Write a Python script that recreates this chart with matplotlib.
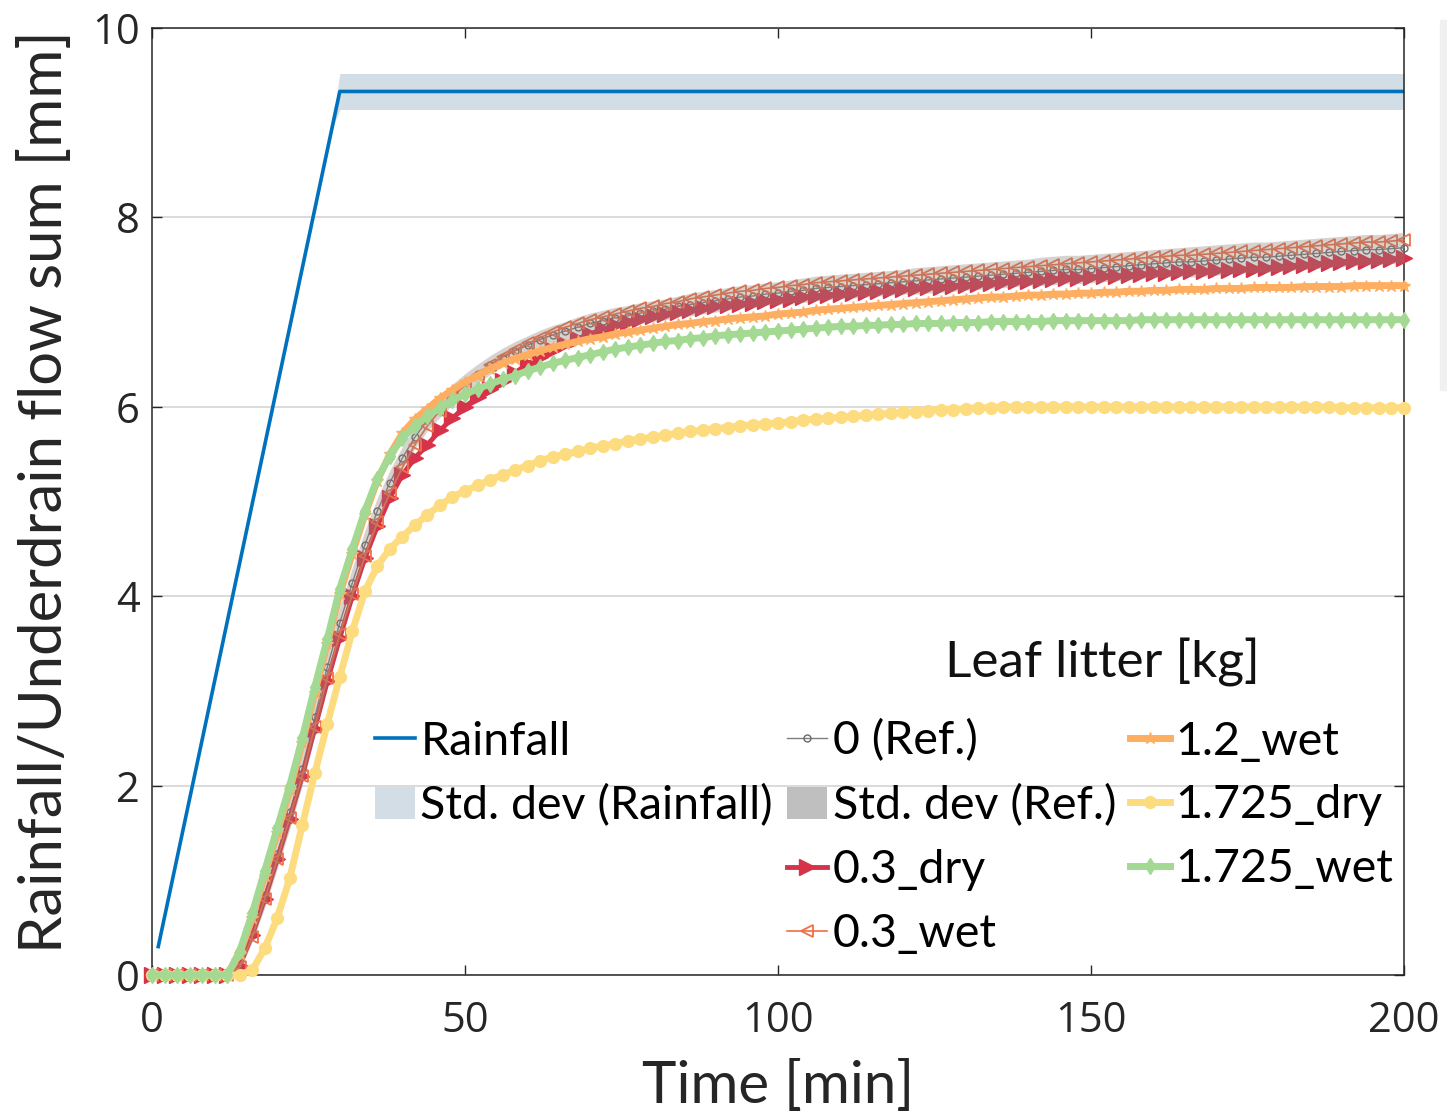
import numpy as np
import matplotlib
matplotlib.use("Agg")
import matplotlib.pyplot as plt
from matplotlib.lines import Line2D
from matplotlib.patches import Patch, Rectangle

plt.rcParams['font.family'] = ['Lato', 'DejaVu Sans']

# time axis, one value every 2 min
time = np.arange(0, 201, 2)

# rainfall (cumulative) and its std dev
rain_t = [1, 29, 30, 200]
rain = [0.30, 9.02, 9.33, 9.33]
rain_sd = [0.02, 0.05, 0.19, 0.19]

# underdrain flow sums [mm]
ref = [0, 0, 0, 0, 0, 0, 0, 0.10, 0.45, 0.85,
       1.28, 1.72, 2.18, 2.72, 3.25, 3.72, 4.14, 4.54, 4.90, 5.20,
       5.46, 5.68, 5.86, 6.00, 6.13, 6.25, 6.35, 6.44, 6.52, 6.59,
       6.65, 6.71, 6.76, 6.80, 6.84, 6.88, 6.91, 6.94, 6.96, 6.99,
       7.01, 7.03, 7.06, 7.08, 7.10, 7.12, 7.14, 7.16, 7.17, 7.19,
       7.20, 7.22, 7.23, 7.25, 7.26, 7.27, 7.28, 7.29, 7.30, 7.31,
       7.32, 7.33, 7.34, 7.35, 7.36, 7.37, 7.38, 7.39, 7.40, 7.41,
       7.42, 7.43, 7.44, 7.45, 7.45, 7.46, 7.47, 7.48, 7.49, 7.50,
       7.51, 7.52, 7.53, 7.53, 7.54, 7.55, 7.56, 7.57, 7.58, 7.58,
       7.59, 7.60, 7.61, 7.62, 7.63, 7.64, 7.65, 7.66, 7.66, 7.67,
       7.68]

ref_sd = [0, 0, 0, 0, 0, 0, 0, 0.05, 0.10, 0.14,
          0.16, 0.18, 0.18, 0.18, 0.18, 0.17, 0.16, 0.15, 0.14, 0.13,
          0.12, 0.12, 0.11, 0.11, 0.11, 0.10, 0.10, 0.10, 0.10, 0.10,
          0.10, 0.10, 0.10, 0.10, 0.11, 0.11, 0.11, 0.11, 0.11, 0.11,
          0.11, 0.11, 0.11, 0.12, 0.12, 0.12, 0.12, 0.12, 0.12, 0.12,
          0.12, 0.12, 0.13, 0.13, 0.13, 0.13, 0.13, 0.13, 0.13, 0.13,
          0.13, 0.14, 0.14, 0.14, 0.14, 0.14, 0.14, 0.14, 0.14, 0.14,
          0.14, 0.15, 0.15, 0.15, 0.15, 0.15, 0.15, 0.15, 0.15, 0.15,
          0.15, 0.15, 0.15, 0.16, 0.16, 0.16, 0.16, 0.16, 0.16, 0.16,
          0.16, 0.16, 0.16, 0.16, 0.16, 0.16, 0.16, 0.16, 0.16, 0.16,
          0.16]

dry_03 = [0, 0, 0, 0, 0, 0, 0, 0.10, 0.42, 0.80,
          1.22, 1.65, 2.10, 2.60, 3.10, 3.56, 4.00, 4.40, 4.74, 5.04,
          5.28, 5.46, 5.60, 5.75, 5.88, 6.00, 6.10, 6.19, 6.27, 6.36,
          6.45, 6.53, 6.60, 6.66, 6.72, 6.77, 6.82, 6.86, 6.90, 6.93,
          6.96, 6.98, 7.00, 7.02, 7.04, 7.06, 7.07, 7.09, 7.10, 7.12,
          7.13, 7.14, 7.16, 7.17, 7.18, 7.19, 7.20, 7.21, 7.22, 7.23,
          7.24, 7.25, 7.26, 7.27, 7.28, 7.29, 7.30, 7.31, 7.32, 7.33,
          7.33, 7.34, 7.35, 7.36, 7.36, 7.37, 7.38, 7.38, 7.39, 7.40,
          7.41, 7.41, 7.42, 7.43, 7.43, 7.44, 7.44, 7.45, 7.46, 7.47,
          7.48, 7.49, 7.50, 7.51, 7.52, 7.53, 7.54, 7.54, 7.55, 7.56,
          7.57]

wet_03 = [0, 0, 0, 0, 0, 0, 0, 0.08, 0.40, 0.80,
          1.22, 1.66, 2.10, 2.62, 3.14, 3.60, 4.02, 4.42, 4.78, 5.09,
          5.36, 5.60, 5.80, 5.96, 6.10, 6.23, 6.34, 6.44, 6.53, 6.60,
          6.67, 6.73, 6.79, 6.84, 6.88, 6.92, 6.95, 6.98, 7.01, 7.04,
          7.06, 7.09, 7.11, 7.14, 7.16, 7.18, 7.20, 7.22, 7.23, 7.25,
          7.26, 7.28, 7.29, 7.31, 7.32, 7.33, 7.34, 7.35, 7.36, 7.37,
          7.38, 7.39, 7.40, 7.41, 7.42, 7.43, 7.44, 7.45, 7.46, 7.47,
          7.48, 7.49, 7.50, 7.51, 7.52, 7.53, 7.54, 7.55, 7.56, 7.57,
          7.58, 7.59, 7.60, 7.60, 7.61, 7.62, 7.63, 7.64, 7.65, 7.66,
          7.67, 7.68, 7.69, 7.70, 7.71, 7.72, 7.73, 7.74, 7.74, 7.75,
          7.76]

wet_12 = [0, 0, 0, 0, 0, 0, 0, 0.22, 0.60, 1.05,
          1.50, 1.95, 2.45, 2.98, 3.50, 4.02, 4.45, 4.86, 5.22, 5.50,
          5.72, 5.87, 5.98, 6.09, 6.18, 6.26, 6.33, 6.40, 6.46, 6.51,
          6.55, 6.59, 6.63, 6.66, 6.69, 6.72, 6.74, 6.77, 6.79, 6.81,
          6.83, 6.85, 6.87, 6.88, 6.90, 6.91, 6.93, 6.94, 6.95, 6.96,
          6.98, 6.99, 7.00, 7.02, 7.03, 7.04, 7.05, 7.06, 7.07, 7.08,
          7.09, 7.10, 7.11, 7.12, 7.13, 7.14, 7.15, 7.16, 7.16, 7.17,
          7.18, 7.18, 7.19, 7.19, 7.20, 7.20, 7.21, 7.21, 7.22, 7.22,
          7.23, 7.23, 7.24, 7.24, 7.24, 7.25, 7.25, 7.25, 7.26, 7.26,
          7.26, 7.26, 7.27, 7.27, 7.27, 7.27, 7.28, 7.28, 7.28, 7.28,
          7.28]

dry_1725 = [0, 0, 0, 0, 0, 0, 0, 0, 0.05, 0.28,
            0.60, 1.02, 1.58, 2.13, 2.65, 3.15, 3.63, 4.05, 4.32, 4.50,
            4.63, 4.75, 4.86, 4.96, 5.05, 5.11, 5.17, 5.23, 5.28, 5.33,
            5.38, 5.43, 5.47, 5.50, 5.53, 5.56, 5.59, 5.61, 5.64, 5.66,
            5.68, 5.70, 5.72, 5.74, 5.75, 5.77, 5.78, 5.80, 5.81, 5.82,
            5.83, 5.84, 5.86, 5.87, 5.88, 5.89, 5.90, 5.91, 5.92, 5.93,
            5.94, 5.95, 5.96, 5.97, 5.97, 5.98, 5.99, 5.99, 6.00, 6.00,
            6.00, 6.00, 6.00, 6.00, 6.00, 6.00, 6.00, 6.00, 6.00, 6.00,
            6.00, 6.00, 6.00, 6.00, 6.00, 6.00, 6.00, 6.00, 6.00, 6.00,
            6.00, 6.00, 6.00, 6.00, 6.00, 5.99, 5.99, 5.99, 5.99, 5.99,
            5.99]

wet_1725 = [0, 0, 0, 0, 0, 0, 0, 0.25, 0.65, 1.10,
            1.55, 2.00, 2.50, 3.04, 3.55, 4.08, 4.50, 4.90, 5.24, 5.48,
            5.67, 5.80, 5.90, 5.99, 6.07, 6.13, 6.19, 6.24, 6.29, 6.33,
            6.38, 6.42, 6.46, 6.49, 6.52, 6.55, 6.58, 6.61, 6.63, 6.65,
            6.67, 6.69, 6.70, 6.72, 6.73, 6.75, 6.76, 6.77, 6.78, 6.79,
            6.80, 6.81, 6.82, 6.83, 6.84, 6.85, 6.85, 6.86, 6.86, 6.87,
            6.87, 6.88, 6.88, 6.88, 6.89, 6.89, 6.89, 6.90, 6.90, 6.90,
            6.90, 6.90, 6.91, 6.91, 6.91, 6.91, 6.91, 6.91, 6.91, 6.92,
            6.92, 6.92, 6.92, 6.92, 6.92, 6.92, 6.92, 6.92, 6.92, 6.92,
            6.92, 6.92, 6.92, 6.92, 6.92, 6.92, 6.92, 6.92, 6.92, 6.92,
            6.92]

x_ticks = [0, 50, 100, 150, 200]
y_ticks = [0, 2, 4, 6, 8, 10]

fig = plt.figure(figsize=(14.47, 11.16), dpi=100)
ax = fig.add_axes([0.10504, 0.12634, 0.86524, 0.84857])

# rainfall
rain_a = np.array(rain)
rain_sd_a = np.array(rain_sd)
ax.fill_between(rain_t, rain_a - rain_sd_a, rain_a + rain_sd_a, color='#d3dde5', lw=0, zorder=1)
h_rain, = ax.plot(rain_t, rain, color='#0072BD', lw=2.6, zorder=2)

# leaf litter series
h_ref, = ax.plot(time, ref, color='#7f7f7f', lw=1.0, marker='o', ms=5, mfc='none',
                 mec='#6a6a6a', mew=1.0, zorder=3, clip_on=False)
h_dry03, = ax.plot(time, dry_03, color='#d6334a', lw=3.5, marker='>', ms=11, mec='#d6334a',
                   zorder=4, clip_on=False)
h_wet03, = ax.plot(time, wet_03, color='#f46d43', lw=1.2, marker='<', ms=8.5, mfc='none',
                   mec='#f07048', mew=1.3, zorder=5, clip_on=False)

ref_a = np.array(ref)
ref_sd_a = np.array(ref_sd)
ax.fill_between(time, ref_a - ref_sd_a, ref_a + ref_sd_a, color='#8c7f7a', alpha=0.35, lw=0, zorder=6)

h_wet12, = ax.plot(time, wet_12, color='#fdae61', lw=5, marker='*', ms=9, mec='#fdae61',
                   zorder=7, clip_on=False)
h_dry1725, = ax.plot(time, dry_1725, color='#fddc80', lw=5, marker='o', ms=8.5, mec='#fddc80',
                     zorder=8, clip_on=False)
h_wet1725, = ax.plot(time, wet_1725, color='#a3d993', lw=5, marker='d', ms=8, mec='#a3d993',
                     zorder=9, clip_on=False)

ax.set_xlim(0, 200)
ax.set_ylim(0, 10)
ax.set_xticks(x_ticks)
ax.set_yticks(y_ticks)
ax.yaxis.grid(True, color='#d4d4d4', lw=1.2)
ax.set_axisbelow(True)

for sp in ax.spines.values():
    sp.set_color('#262626')
    sp.set_linewidth(1.1)
ax.tick_params(direction='in', length=7, width=1.0, top=True, right=True,
               labelsize=30, colors='#262626')
ax.tick_params(axis='x', pad=18)
ax.tick_params(axis='y', pad=9)
for lab in ax.get_xticklabels() + ax.get_yticklabels():
    lab.set_fontfamily(['Open Sans', 'DejaVu Sans'])

ax.set_xlabel('Time [min]', fontsize=42, color='#262626')
ax.xaxis.set_label_coords(0.5, -0.0895)
ax.set_ylabel('Rainfall/Underdrain flow sum [mm]', fontsize=43, color='#262626')
ax.yaxis.set_label_coords(-0.064, 0.51)

# legend
p_rain = Patch(facecolor='#d3dde5', edgecolor='none')
p_ref = Patch(facecolor='#bfbfbf', edgecolor='none')
blank = Line2D([], [], linestyle='none')
handles = [h_rain, p_rain, blank, blank,
           h_ref, p_ref, h_dry03, h_wet03,
           h_wet12, h_dry1725, h_wet1725, blank]
labels = ['Rainfall', 'Std. dev (Rainfall)', '', '',
          '0 (Ref.)', 'Std. dev (Ref.)', '0.3_dry', '0.3_wet',
          '1.2_wet', '1.725_dry', '1.725_wet', '']
leg = ax.legend(handles, labels, ncol=3, loc='upper left', bbox_to_anchor=(0.178, 0.2698),
                frameon=False, fontsize=33.5, handlelength=0.86, handletextpad=0.12,
                columnspacing=0.3, labelspacing=0.47, borderpad=0, borderaxespad=0,
                numpoints=1)
leg.set_zorder(20)
ax.text(0.759, 0.3295, 'Leaf litter [kg]', transform=ax.transAxes, ha='center', va='center',
        fontsize=37, color='#111111')

# faint strip on the right edge of the original image
fig.patches.append(Rectangle((1440 / 1447, 1 - 390 / 1116), 7 / 1447, 370 / 1116,
                             transform=fig.transFigure, color='#f0f0f0', zorder=0))

fig.savefig('out.png', dpi=100)
